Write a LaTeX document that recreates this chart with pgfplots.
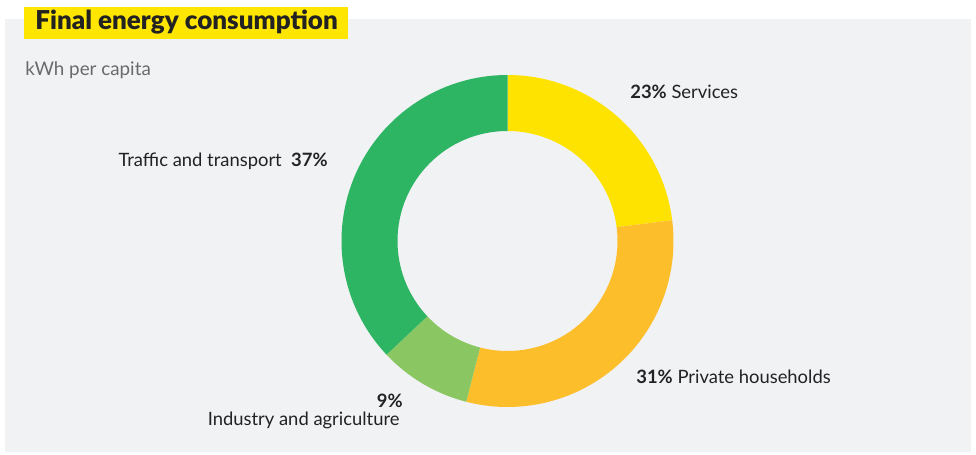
\documentclass[border=0pt]{standalone}
\usepackage{pgfplots}
\usepackage{pgfplotstable}
\usepackage{fontspec}
\setmainfont{Lato}
\newfontfamily\titlefont{Lato Black}
\pgfplotsset{compat=1.18}
\definecolor{panel}{HTML}{F1F2F4}
\definecolor{titleyellow}{HTML}{FFE600}
\definecolor{svc}{HTML}{FFE300}
\definecolor{hh}{HTML}{FDBE2C}
\definecolor{ind}{HTML}{8AC763}
\definecolor{trf}{HTML}{2DB563}
\definecolor{ink}{HTML}{222222}
\definecolor{subgray}{HTML}{6A6A6A}

% shares in percent, clockwise from 12 o'clock
\pgfplotstableread{
share
23
31
9
37
}\sharetable

\begin{document}
\begin{tikzpicture}
\pgfplotstablegetelem{0}{share}\of\sharetable \let\sA\pgfplotsretval
\pgfplotstablegetelem{1}{share}\of\sharetable \let\sB\pgfplotsretval
\pgfplotstablegetelem{2}{share}\of\sharetable \let\sC\pgfplotsretval
\pgfplotstablegetelem{3}{share}\of\sharetable \let\sD\pgfplotsretval
\pgfmathsetmacro\aA{90-3.6*\sA}
\pgfmathsetmacro\aB{\aA-3.6*\sB}
\pgfmathsetmacro\aC{\aB-3.6*\sC}
\pgfmathsetmacro\aD{\aC-3.6*\sD}
\begin{axis}[
  at={(0,0)}, anchor=south west,
  width=488pt, height=227.5pt, scale only axis,
  xmin=0, xmax=976, ymin=0, ymax=455,
  hide axis, clip=false,
]
% panel and title
\fill[panel] (axis cs:5,3) rectangle (axis cs:971,436);
\fill[titleyellow] (axis cs:24,416) rectangle (axis cs:348,448);
\node[anchor=base west, inner sep=0pt, text=ink, font=\fontsize{13}{15}\titlefont]
  at (axis cs:35,425) {Final energy consumption};
\node[anchor=base west, inner sep=0pt, text=subgray, font=\fontsize{9.4}{11}\selectfont]
  at (axis cs:25,379) {kWh per capita};
% donut
\coordinate (c) at (axis cs:507.5,214);
\def\wedge#1#2#3{%
  \fill[#1] ([shift={(#2:83pt)}]c) arc[start angle=#2, end angle=#3, radius=83pt]
    -- ([shift={(#3:55pt)}]c) arc[start angle=#3, end angle=#2, radius=55pt] -- cycle;}
\wedge{svc}{90}{\aA}
\wedge{hh}{\aA}{\aB}
\wedge{ind}{\aB}{\aC}
\wedge{trf}{\aC}{\aD}
% labels
\tikzset{lbl/.style={inner sep=0pt, text=ink, font=\fontsize{9.2}{11}\selectfont}}
\node[lbl, anchor=base west] at (axis cs:630,356) {\textbf{23\%} Services};
\node[lbl, anchor=base west] at (axis cs:636,71) {\textbf{31\%} Private households};
\node[lbl, anchor=base east] at (axis cs:328,288) {Traffic and transport\ \ \textbf{37\%}};
\node[lbl, anchor=base east] at (axis cs:403,47) {\textbf{9\%}};
\node[lbl, anchor=base east] at (axis cs:400,29) {Industry and agriculture};
\end{axis}
\pgfresetboundingbox
\useasboundingbox (0,0) rectangle (488pt,227.5pt);
\end{tikzpicture}
\end{document}
